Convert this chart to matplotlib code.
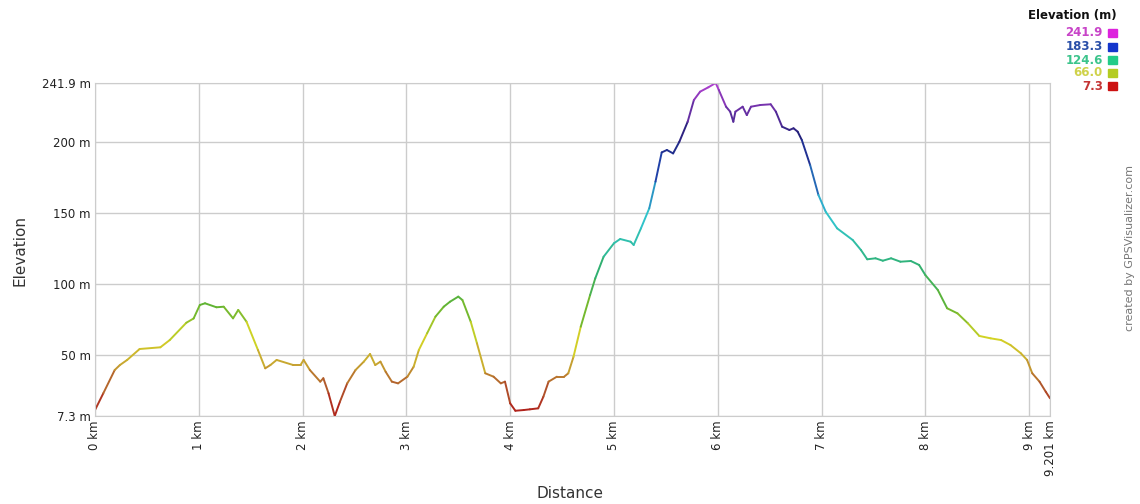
import numpy as np
import matplotlib
matplotlib.use("Agg")
import matplotlib.pyplot as plt
from matplotlib.collections import LineCollection
from matplotlib.colors import LinearSegmentedColormap, Normalize

# profile (km, m)
distance_km = [0.00, 0.08, 0.19, 0.24, 0.31, 0.43, 0.63, 0.72, 0.88, 0.95,
               1.01, 1.06, 1.17, 1.24, 1.33, 1.38, 1.46, 1.57, 1.64, 1.69,
               1.75, 1.91, 1.98, 2.01, 2.07, 2.17, 2.20, 2.25, 2.31, 2.36,
               2.43, 2.51, 2.59, 2.65, 2.70, 2.75, 2.80, 2.86, 2.92, 3.01,
               3.07, 3.12, 3.20, 3.28, 3.36, 3.42, 3.50, 3.54, 3.62, 3.68,
               3.76, 3.84, 3.91, 3.95, 4.00, 4.05, 4.13, 4.19, 4.27, 4.32,
               4.37, 4.45, 4.52, 4.56, 4.61, 4.68, 4.77, 4.82, 4.90, 5.00,
               5.06, 5.16, 5.19, 5.26, 5.34, 5.40, 5.46, 5.51, 5.57, 5.63,
               5.71, 5.77, 5.83, 5.91, 5.98, 6.01, 6.08, 6.12, 6.15, 6.17,
               6.24, 6.28, 6.32, 6.41, 6.51, 6.56, 6.62, 6.69, 6.73, 6.77,
               6.81, 6.89, 6.97, 7.04, 7.15, 7.30, 7.38, 7.44, 7.52, 7.59,
               7.67, 7.76, 7.86, 7.94, 8.00, 8.12, 8.21, 8.31, 8.41, 8.52,
               8.63, 8.73, 8.82, 8.92, 8.98, 9.03, 9.10, 9.16, 9.201]
elevation_m = [11.5, 23.3, 39.7, 43.2, 46.8, 54.5, 55.7, 60.8, 73.0, 76.0,
               85.5, 86.7, 83.9, 84.3, 76.1, 82.0, 73.7, 53.8, 40.9, 43.2,
               46.8, 43.2, 43.2, 46.8, 39.7, 31.5, 33.9, 23.3, 7.3, 17.4,
               30.3, 39.7, 45.6, 51.0, 43.2, 45.6, 38.5, 31.5, 30.3, 35.0,
               42.0, 53.8, 65.6, 77.3, 84.3, 87.8, 91.4, 89.0, 73.7, 58.5,
               37.4, 35.0, 30.3, 31.5, 16.2, 11.0, 11.5, 12.0, 12.7, 20.9,
               31.5, 35.0, 35.0, 37.4, 49.0, 70.2, 92.5, 104.3, 119.5, 129.0,
               132.0, 130.1, 127.8, 139.5, 153.6, 172.4, 193.0, 194.7, 192.3, 200.5,
               214.6, 229.9, 235.8, 238.9, 241.9, 237.0, 225.2, 221.7, 214.6, 221.7,
               225.2, 219.3, 225.2, 226.4, 226.9, 221.7, 211.1, 208.8, 210.0, 207.6,
               201.7, 184.1, 163.0, 151.2, 139.5, 131.3, 124.2, 117.7, 118.4, 116.7,
               118.4, 116.0, 116.5, 113.7, 106.6, 96.1, 83.2, 79.6, 72.6, 63.7,
               62.0, 60.8, 57.3, 51.5, 46.8, 37.4, 31.5, 24.4, 19.8]

x_ticks = [0, 1, 2, 3, 4, 5, 6, 7, 8, 9, 9.201]
x_labels = ["0 km", "1 km", "2 km", "3 km", "4 km", "5 km", "6 km", "7 km",
            "8 km", "9 km", "9.201 km"]
y_ticks = [7.3, 50, 100, 150, 200, 241.9]
y_labels = ["7.3 m", "50 m", "100 m", "150 m", "200 m", "241.9 m"]

legend_values = ["241.9", "183.3", "124.6", "66.0", "7.3"]
legend_text_colors = ["#c844c8", "#2a4fa8", "#3cc48c", "#cfd24a", "#c43434"]
legend_box_colors = ["#dd22dd", "#1436cc", "#22cc88", "#b4cc22", "#cc1111"]

ymin, ymax = 7.3, 241.9

# elevation colour ramp
ramp = [(7.3, "#b01818"), (28, "#b0582c"), (45, "#c8a830"), (62, "#d4d424"),
        (84, "#64b430"), (112, "#30b070"), (132, "#30c0b0"), (152, "#30c4d4"),
        (183.3, "#2040a8"), (205, "#22207a"), (241.9, "#b040d0")]
cmap = LinearSegmentedColormap.from_list(
    "elev", [((v - ymin) / (ymax - ymin), c) for v, c in ramp])

fig = plt.figure(figsize=(11.4, 5.04), dpi=100)
ax = fig.add_axes([95 / 1140, 88 / 504, 955 / 1140, 333 / 504])

x = np.array(distance_km)
y = np.array(elevation_m)
pts = np.column_stack([x, y]).reshape(-1, 1, 2)
segs = np.concatenate([pts[:-1], pts[1:]], axis=1)
lc = LineCollection(segs, cmap=cmap, norm=Normalize(ymin, ymax),
                    linewidths=1.4, capstyle="round", joinstyle="round")
lc.set_array((y[:-1] + y[1:]) / 2)
ax.add_collection(lc)

ax.set_xlim(0, 9.201)
ax.set_ylim(ymin, ymax)
ax.set_xticks(x_ticks)
ax.set_xticklabels(x_labels, rotation=90, fontsize=8.5, va="top", ha="center")
ax.set_yticks(y_ticks)
ax.set_yticklabels(y_labels, fontsize=8.5)
ax.tick_params(length=0, pad=3, colors="#222222")
ax.grid(True, color="#cccccc", linewidth=1)
ax.set_axisbelow(True)
for s in ax.spines.values():
    s.set_color("#cccccc")

fig.text(20 / 1140, 1 - 250 / 504, "Elevation", rotation=90, ha="center",
         va="center", fontsize=11, color="#333333")
fig.text(570 / 1140, 1 - 493 / 504, "Distance", ha="center", va="center",
         fontsize=11, color="#333333")
fig.text(1130 / 1140, 1 - 248 / 504, "created by GPSVisualizer.com",
         rotation=90, ha="center", va="center", fontsize=8, color="#777777")

# colour key, top right
fig.text(1117 / 1140, 1 - 16 / 504, "Elevation (m)", ha="right", va="center",
         fontsize=8.5, fontweight="bold", color="#111111")
rows_y = [33, 47, 60, 73, 86]
for val, tc, bc, ry in zip(legend_values, legend_text_colors,
                           legend_box_colors, rows_y):
    fig.text(1103 / 1140, 1 - ry / 504, val, ha="right", va="center",
             fontsize=8.5, fontweight="bold", color=tc)
    fig.patches.append(plt.Rectangle((1108 / 1140, 1 - (ry + 4) / 504),
                                     9 / 1140, 8 / 504, color=bc,
                                     transform=fig.transFigure, figure=fig))

fig.savefig("out.png", dpi=100)
